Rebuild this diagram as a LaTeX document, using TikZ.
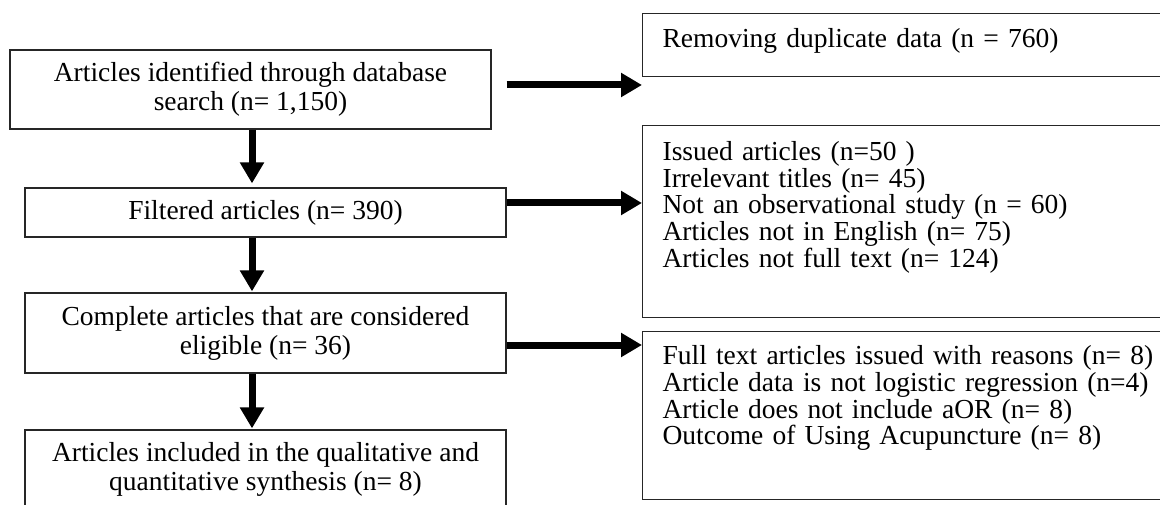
\documentclass[tikz,border=0pt]{standalone}
\usepackage{fontspec}
\setmainfont{Liberation Serif}
\usetikzlibrary{arrows.meta,positioning}

\tikzset{
  stage/.style={draw=black!85, line width=1.2pt, minimum width=481pt, align=center,
    inner sep=0pt, font=\fontsize{27.5}{29}\selectfont},
  reason/.style={draw=black!85, line width=1.2pt, anchor=north west, align=left,
    text width=500pt, inner xsep=20pt, inner ysep=0pt, font=\fontsize{27.5}{26.7}\selectfont},
  flow/.style={line width=7pt, -{Triangle[width=23pt,length=21pt]}},
}

\begin{document}
\begin{tikzpicture}[x=1pt,y=-1pt]
  \useasboundingbox (0,0) rectangle (1160,505);
  \clip (0,0) rectangle (1160,505);

% screening steps at left
  \node[stage, minimum height=79pt] (ident) at (250.5,89.5) {Articles identified through database\\search (n= 1,150)};
  \node[stage, minimum height=49pt] (filt)  at (265.5,212.5) {Filtered articles (n= 390)};
  \node[stage, minimum height=80pt] (elig)  at (265.5,333) {Complete articles that are considered\\eligible (n= 36)};
  \node[stage, minimum height=78pt] (incl)  at (265.5,469) {Articles included in the qualitative and\\quantitative synthesis (n= 8)};

% excluded records at right
  \node[reason, text height=34pt, text depth=29pt] (dupl) at (642,13) {Removing duplicate data (n = 760)};
  \node[reason, text height=35pt, text depth=157pt] (excl) at (642,125)
    {Issued articles (n=50 )\\Irrelevant titles (n= 45)\\Not an observational study (n = 60)\\
     Articles not in English (n= 75)\\Articles not full text (n= 124)};
  \node[reason, text height=33pt, text depth=135pt] (full) at (642,331)
    {Full text articles issued with reasons (n= 8)\\Article data is not logistic regression (n=4)\\
     Article does not include aOR (n= 8)\\Outcome of Using Acupuncture (n= 8)};

% downward arrows
  \coordinate (spine) at (252,0);
  \draw[flow, shorten >=4pt] (ident.south -| spine) -- (filt.north -| spine);
  \draw[flow, shorten >=1pt] (filt.south -| spine) -- (elig.north -| spine);
  \draw[flow, shorten >=1pt] (elig.south -| spine) -- (incl.north -| spine);

% arrows to the right
  \coordinate (out1) at ([xshift=15pt,yshift=4.5pt]ident.east);
  \coordinate (out2) at ([yshift=9.5pt]filt.east);
  \coordinate (out3) at ([yshift=-12pt]elig.east);
  \draw[flow] (out1) -- (out1 -| dupl.west);
  \draw[flow] (out2) -- (out2 -| excl.west);
  \draw[flow] (out3) -- (out3 -| full.west);

\end{tikzpicture}
\end{document}
